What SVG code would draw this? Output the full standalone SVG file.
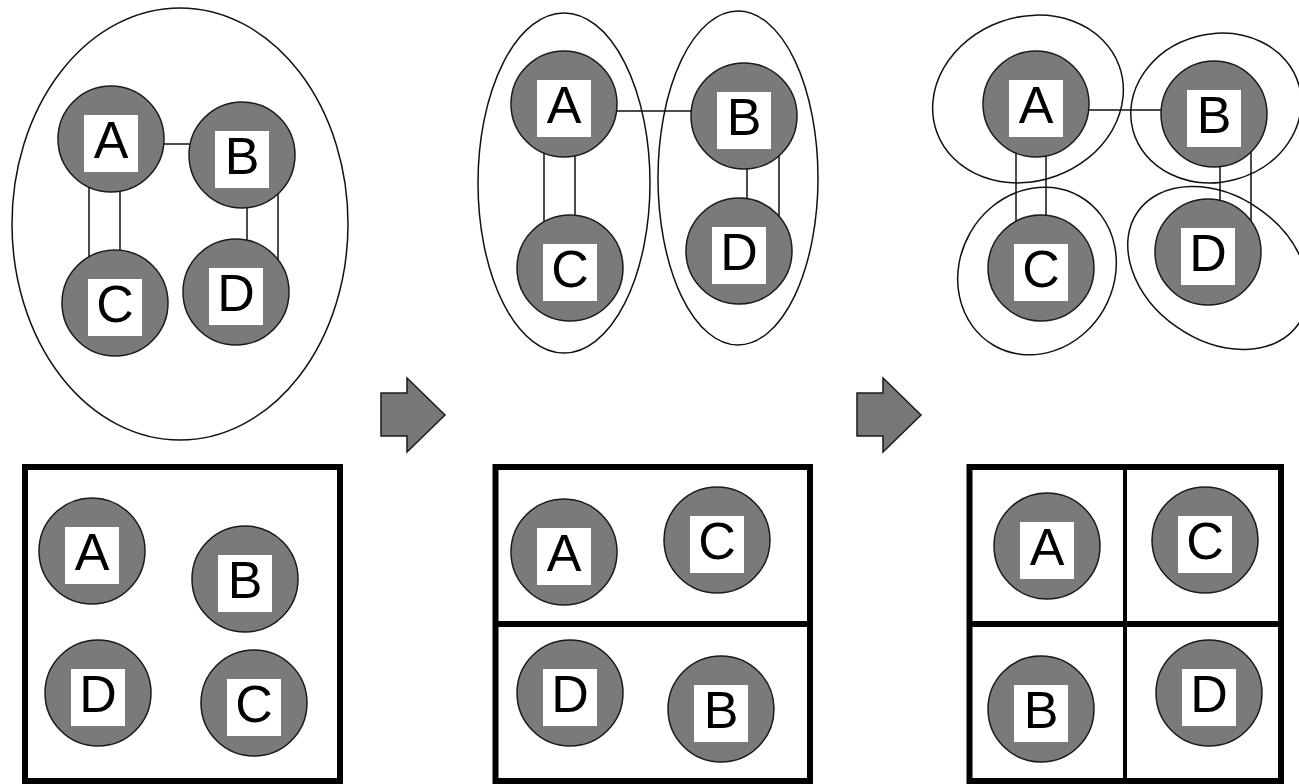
<svg xmlns="http://www.w3.org/2000/svg" width="1299" height="784" viewBox="0 0 1299 784">
<style>
.bg{fill:#ffffff}
.grp{fill:none;stroke:#111;stroke-width:1.5}
.edge{stroke:#111;stroke-width:1.5;fill:none}
.nc{fill:#7a7a7a;stroke:#1a1a1a;stroke-width:1.5}
.nb{fill:#ffffff;stroke:none}
.nt{font-family:"Liberation Sans",Arial,sans-serif;font-size:52px;fill:#000;text-anchor:middle}
.frame{fill:none;stroke:#000;stroke-width:6}
.div{stroke:#000;stroke-width:6}
.divv{stroke:#000;stroke-width:4}
.arrow{fill:#777;stroke:#1a1a1a;stroke-width:1.5;stroke-linejoin:miter}
</style>
<rect class="bg" x="0" y="0" width="1299" height="784"/>

<g id="groups">
<ellipse class="grp" cx="180" cy="224" rx="168" ry="216"/>
<ellipse class="grp" cx="564" cy="183" rx="86" ry="170"/>
<ellipse class="grp" cx="738" cy="178" rx="80" ry="167"/>
<ellipse class="grp" cx="1028" cy="99" rx="97" ry="82" transform="rotate(-20 1028 99)"/>
<ellipse class="grp" cx="1216" cy="108" rx="86" ry="74" transform="rotate(-15 1216 108)"/>
<ellipse class="grp" cx="1037" cy="271" rx="77" ry="86" transform="rotate(30 1037 271)"/>
<ellipse class="grp" cx="1218" cy="268" rx="98" ry="72" transform="rotate(35 1218 268)"/>
</g>

<g id="connectors">
<line class="edge" x1="150" y1="144" x2="200" y2="144"/>
<line class="edge" x1="89" y1="170" x2="89" y2="280"/>
<line class="edge" x1="120" y1="170" x2="120" y2="280"/>
<line class="edge" x1="247" y1="180" x2="247" y2="270"/>
<line class="edge" x1="278" y1="170" x2="278" y2="280"/>
<line class="edge" x1="600" y1="111" x2="710" y2="111"/>
<line class="edge" x1="544" y1="130" x2="544" y2="240"/>
<line class="edge" x1="575" y1="130" x2="575" y2="240"/>
<line class="edge" x1="747" y1="140" x2="747" y2="230"/>
<line class="edge" x1="779" y1="130" x2="779" y2="240"/>
<line class="edge" x1="1070" y1="110" x2="1180" y2="110"/>
<line class="edge" x1="1016" y1="130" x2="1016" y2="240"/>
<line class="edge" x1="1046" y1="130" x2="1046" y2="240"/>
<line class="edge" x1="1220" y1="140" x2="1220" y2="230"/>
<line class="edge" x1="1251" y1="130" x2="1251" y2="240"/>
</g>

<g id="p1A"><circle class="nc" cx="111" cy="139" r="53"/><rect class="nb" x="84" y="115" width="54" height="57"/><text class="nt" x="111" y="158">A</text></g>
<g id="p1B"><circle class="nc" cx="242" cy="155" r="53"/><rect class="nb" x="215" y="131" width="54" height="57"/><text class="nt" x="242" y="174">B</text></g>
<g id="p1C"><circle class="nc" cx="115" cy="303" r="53"/><rect class="nb" x="88" y="279" width="54" height="57"/><text class="nt" x="115" y="322">C</text></g>
<g id="p1D"><circle class="nc" cx="236" cy="292" r="53"/><rect class="nb" x="209" y="268" width="54" height="57"/><text class="nt" x="236" y="311">D</text></g>

<g id="p2A"><circle class="nc" cx="564" cy="104" r="53"/><rect class="nb" x="537" y="80" width="54" height="57"/><text class="nt" x="564" y="123">A</text></g>
<g id="p2B"><circle class="nc" cx="744" cy="116" r="53"/><rect class="nb" x="717" y="92" width="54" height="57"/><text class="nt" x="744" y="135">B</text></g>
<g id="p2C"><circle class="nc" cx="570" cy="268" r="53"/><rect class="nb" x="543" y="244" width="54" height="57"/><text class="nt" x="570" y="287">C</text></g>
<g id="p2D"><circle class="nc" cx="739" cy="251" r="53"/><rect class="nb" x="712" y="227" width="54" height="57"/><text class="nt" x="739" y="270">D</text></g>

<g id="p3A"><circle class="nc" cx="1036" cy="104" r="53"/><rect class="nb" x="1009" y="80" width="54" height="57"/><text class="nt" x="1036" y="123">A</text></g>
<g id="p3B"><circle class="nc" cx="1214" cy="114" r="53"/><rect class="nb" x="1187" y="90" width="54" height="57"/><text class="nt" x="1214" y="133">B</text></g>
<g id="p3C"><circle class="nc" cx="1041" cy="268" r="53"/><rect class="nb" x="1014" y="244" width="54" height="57"/><text class="nt" x="1041" y="287">C</text></g>
<g id="p3D"><circle class="nc" cx="1208" cy="252" r="53"/><rect class="nb" x="1181" y="228" width="54" height="57"/><text class="nt" x="1208" y="271">D</text></g>

<g id="arrow1"><polygon class="arrow" points="381,393 407,393 407,378 445,415 407,452 407,436 381,436"/></g>
<g id="arrow2"><polygon class="arrow" points="857,393 883,393 883,378 921,415 883,452 883,436 857,436"/></g>

<g id="frame1">
<rect class="frame" x="25" y="467" width="315" height="314"/>
</g>
<g id="frame2">
<rect class="frame" x="495.5" y="467" width="314.5" height="314"/>
<line class="div" x1="495.5" y1="624" x2="810" y2="624"/>
</g>
<g id="frame3">
<rect class="frame" x="969.5" y="467" width="311.5" height="314"/>
<line class="div" x1="969.5" y1="624" x2="1281" y2="624"/>
<line class="divv" x1="1125" y1="467" x2="1125" y2="781"/>
</g>

<g id="b1A"><circle class="nc" cx="92" cy="551" r="53"/><rect class="nb" x="65" y="527" width="54" height="57"/><text class="nt" x="92" y="570">A</text></g>
<g id="b1B"><circle class="nc" cx="245" cy="579" r="53"/><rect class="nb" x="218" y="555" width="54" height="57"/><text class="nt" x="245" y="598">B</text></g>
<g id="b1D"><circle class="nc" cx="98" cy="693" r="53"/><rect class="nb" x="71" y="669" width="54" height="57"/><text class="nt" x="98" y="712">D</text></g>
<g id="b1C"><circle class="nc" cx="254" cy="703" r="53"/><rect class="nb" x="227" y="679" width="54" height="57"/><text class="nt" x="254" y="722">C</text></g>

<g id="b2A"><circle class="nc" cx="564" cy="552" r="53"/><rect class="nb" x="537" y="528" width="54" height="57"/><text class="nt" x="564" y="571">A</text></g>
<g id="b2C"><circle class="nc" cx="717" cy="540" r="53"/><rect class="nb" x="690" y="516" width="54" height="57"/><text class="nt" x="717" y="559">C</text></g>
<g id="b2D"><circle class="nc" cx="570" cy="693" r="53"/><rect class="nb" x="543" y="669" width="54" height="57"/><text class="nt" x="570" y="712">D</text></g>
<g id="b2B"><circle class="nc" cx="721" cy="709" r="53"/><rect class="nb" x="694" y="685" width="54" height="57"/><text class="nt" x="721" y="728">B</text></g>

<g id="b3A"><circle class="nc" cx="1047" cy="546" r="53"/><rect class="nb" x="1020" y="522" width="54" height="57"/><text class="nt" x="1047" y="565">A</text></g>
<g id="b3C"><circle class="nc" cx="1205" cy="540" r="53"/><rect class="nb" x="1178" y="516" width="54" height="57"/><text class="nt" x="1205" y="559">C</text></g>
<g id="b3B"><circle class="nc" cx="1041" cy="709" r="53"/><rect class="nb" x="1014" y="685" width="54" height="57"/><text class="nt" x="1041" y="728">B</text></g>
<g id="b3D"><circle class="nc" cx="1209" cy="693" r="53"/><rect class="nb" x="1182" y="669" width="54" height="57"/><text class="nt" x="1209" y="712">D</text></g>
</svg>
